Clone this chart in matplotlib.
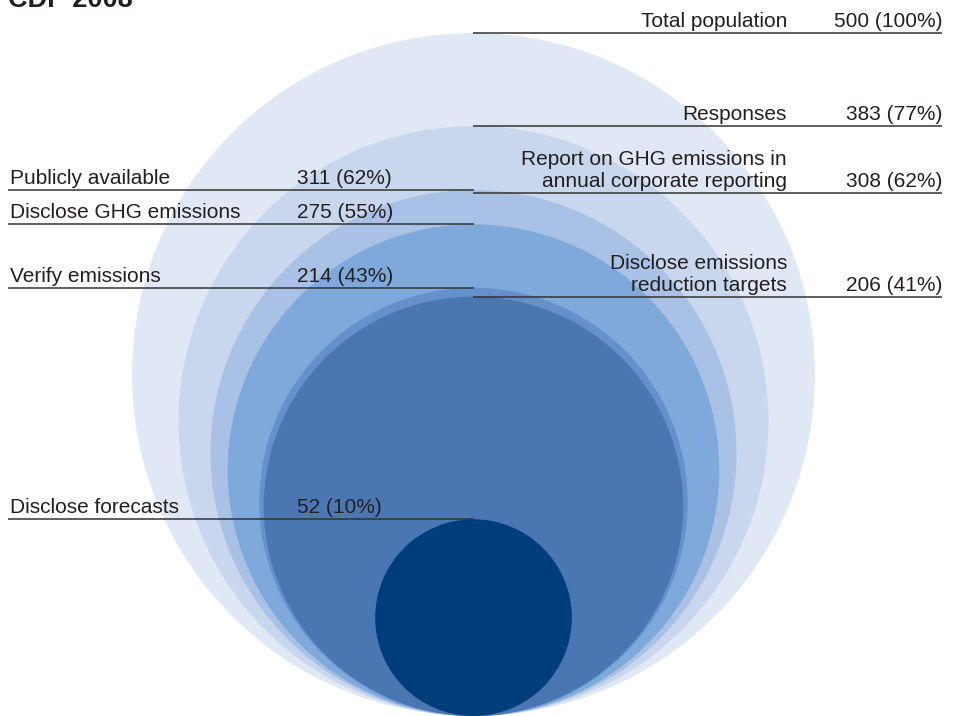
import matplotlib
matplotlib.use("Agg")
import matplotlib.pyplot as plt
from matplotlib.patches import Circle

plt.rcParams["font.family"] = ["Liberation Sans", "DejaVu Sans"]

# ---- data ----
title = "CDP 2008"
categories = [
    "Total population",
    "Responses",
    "Publicly available",
    "Report on GHG emissions in\nannual corporate reporting",
    "Disclose GHG emissions",
    "Verify emissions",
    "Disclose emissions\nreduction targets",
    "Disclose forecasts",
]
counts = [500, 383, 311, 308, 275, 214, 206, 52]
shares = [100, 77, 62, 62, 55, 43, 41, 10]

# ---- layout / style ----
sides = ["right", "right", "left", "right", "left", "left", "right", "left"]
colors = ["#e1e8f5", "#c8d6ee", "#a9c1e5", "#a9c1e5",
          "#7ea9da", "#6590cb", "#4a77b2", "#003d7b"]
W, H = 960, 716
CX, BASE = 473.5, 716
R_MAX = 341.5
EXP = 0.55
TXT = "#231f20"
LINE = "#333333"
FS = 15

fig = plt.figure(figsize=(W / 100, H / 100), dpi=100)
ax = fig.add_axes([0, 0, 1, 1])
ax.set_xlim(0, W)
ax.set_ylim(H, 0)
ax.axis("off")

vmax = max(counts)
radii = [R_MAX * (v / vmax) ** EXP for v in counts]

order = sorted(range(len(counts)), key=lambda i: -radii[i])
for z, i in enumerate(order):
    r = radii[i]
    ax.add_patch(Circle((CX, BASE - r), r, facecolor=colors[i],
                        edgecolor="none", zorder=1 + z * 0.01))

for i, (lab, c, s) in enumerate(zip(categories, counts, shares)):
    top = BASE - 2 * radii[i]
    val = f"{c} ({s}%)"
    if sides[i] == "left":
        ax.plot([8, CX], [top, top], color=LINE, lw=1.1, zorder=5,
                solid_capstyle="butt")
        ax.text(10, top - 6, lab, ha="left", va="baseline", fontsize=FS,
                color=TXT, zorder=6)
        ax.text(297, top - 6, val, ha="left", va="baseline", fontsize=FS,
                color=TXT, zorder=6)
    else:
        ax.plot([CX - 1, 942], [top, top], color=LINE, lw=1.1, zorder=5,
                solid_capstyle="butt")
        ax.text(787, top - 6, lab, ha="right", va="baseline", fontsize=FS,
                color=TXT, zorder=6, linespacing=1.2)
        ax.text(942, top - 6, val, ha="right", va="baseline", fontsize=FS,
                color=TXT, zorder=6)

ax.text(8, 7, title, ha="left", va="baseline", fontsize=19.5,
        fontweight="bold", color=TXT, zorder=6)

fig.savefig("out.png", dpi=100)
